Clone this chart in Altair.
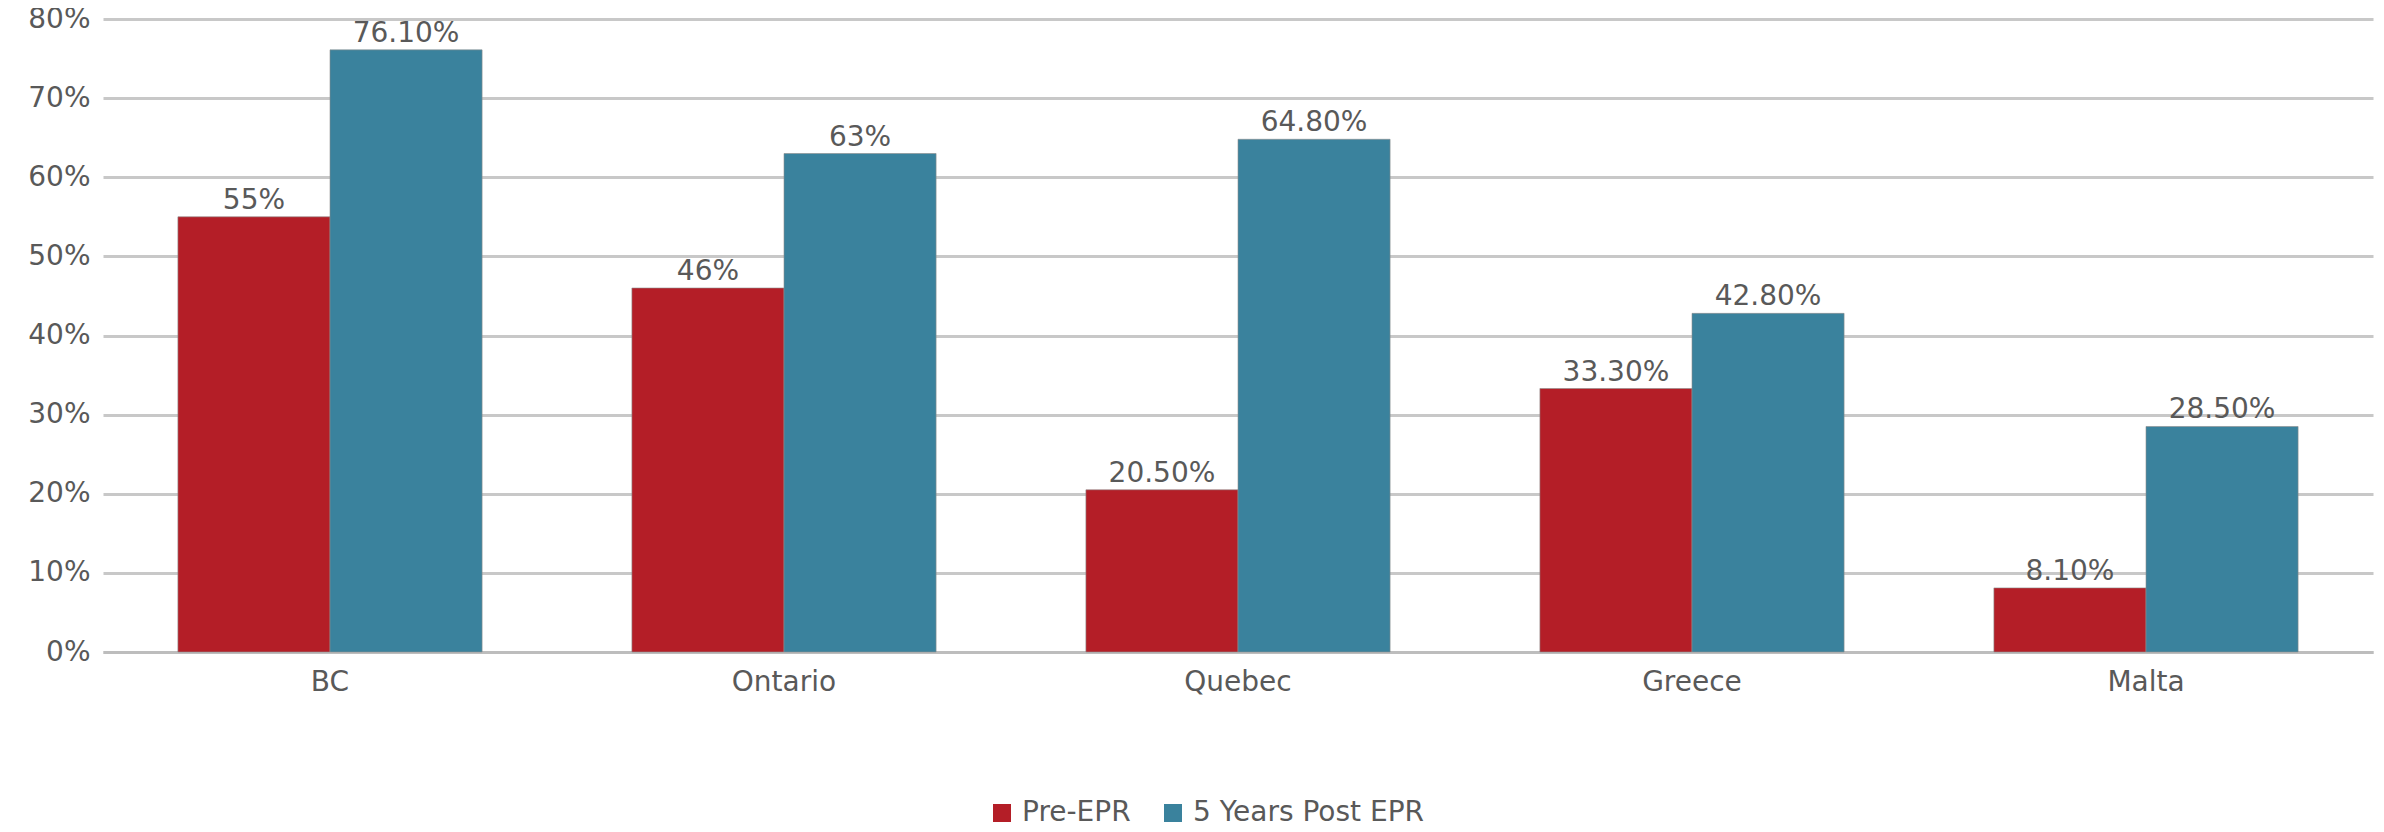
import altair as alt
import pandas as pd

FONT = "DejaVu Sans"
TEXT_COLOR = "#595959"

regions = ["BC", "Ontario", "Quebec", "Greece", "Malta"]
series = ["Pre-EPR", "5 Years Post EPR"]
pre_epr = [55, 46, 20.5, 33.3, 8.1]
post_epr = [76.1, 63, 64.8, 42.8, 28.5]
pre_labels = ["55%", "46%", "20.50%", "33.30%", "8.10%"]
post_labels = ["76.10%", "63%", "64.80%", "42.80%", "28.50%"]
y_ticks = [0, 10, 20, 30, 40, 50, 60, 70, 80]
colors = ["#b41e27", "#3a829d"]

rows = []
for i, r in enumerate(regions):
    rows.append(dict(region=r, series=series[0], value=pre_epr[i], label=pre_labels[i]))
    rows.append(dict(region=r, series=series[1], value=post_epr[i], label=post_labels[i]))
df = pd.DataFrame(rows)

x = alt.X(
    "region:N",
    sort=regions,
    scale=alt.Scale(paddingInner=0.33, paddingOuter=0.165),
    axis=alt.Axis(
        title=None, labelAngle=0, labelFontSize=28, labelFont=FONT,
        labelColor=TEXT_COLOR, labelPadding=16, ticks=False,
        domainColor="#bdbdbd", domainWidth=3,
    ),
)
xo = alt.XOffset("series:N", sort=series)
y = alt.Y(
    "value:Q",
    scale=alt.Scale(domain=[0, 80]),
    axis=alt.Axis(
        values=y_ticks, labelExpr="datum.value + '%'", title=None,
        domain=False, ticks=False, gridColor="#c8c8c8", gridWidth=3,
        labelPadding=13, labelFontSize=28, labelFont=FONT, labelColor=TEXT_COLOR,
    ),
)
color = alt.Color(
    "series:N",
    sort=series,
    scale=alt.Scale(domain=series, range=colors),
    legend=alt.Legend(
        title=None, orient="none", legendX=885, legendY=780,
        direction="horizontal", symbolType="square", symbolSize=324,
        symbolStrokeWidth=0, symbolOpacity=1, labelFontSize=28, labelFont=FONT,
        labelColor=TEXT_COLOR, columnPadding=28, labelOffset=6, labelLimit=600,
    ),
)

bars = alt.Chart(df).mark_bar(
    stroke="#8c8c8c", strokeWidth=1, strokeOpacity=0.6
).encode(x=x, xOffset=xo, y=y, color=color)

text = alt.Chart(df).mark_text(
    baseline="alphabetic", dy=-8, fontSize=28, font=FONT, color=TEXT_COLOR
).encode(x=x, xOffset=xo, y=alt.Y("value:Q"), text="label:N")

chart = (
    (bars + text)
    .properties(
        width=2270,
        height=633,
        padding={"left": 95, "top": 11, "right": 3, "bottom": 180},
        autosize=alt.AutoSizeParams(type="none"),
    )
    .configure_view(stroke=None)
)

chart.save("out.html", embed_options={"renderer": "svg", "actions": False})
